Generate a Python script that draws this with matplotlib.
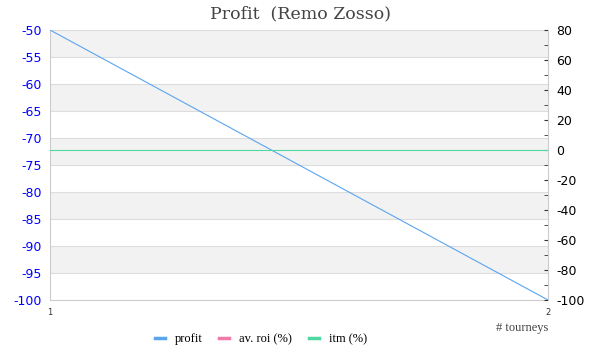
import matplotlib
matplotlib.use("Agg")
import matplotlib.pyplot as plt
import numpy as np
from matplotlib.ticker import MultipleLocator
from matplotlib.lines import Line2D

plt.rcParams["axes.unicode_minus"] = False

tourneys = [1, 2]
profit = [-50, -100]
roi = [np.nan, np.nan]
itm = [0, 0]

left_ticks = list(range(-100, -45, 5))
right_ticks = list(range(-100, 81, 20))

fig = plt.figure(figsize=(6, 3.6), dpi=100)
ax = fig.add_axes([50/600, 1-300/360, 498/600, 270/360])
ax2 = ax.twinx()

ax.set_xlim(1, 2)
ax.set_ylim(-100, -50)
ax2.set_ylim(-100, 80)

# bands
for i, lo in enumerate(range(-100, -50, 5)):
    if i % 2 == 1:
        ax.axhspan(lo, lo + 5, color="#f2f2f2", zorder=0, lw=0)
for t in left_ticks:
    ax.axhline(t, color="#dddddd", lw=0.8, zorder=0.5)

ax.plot(tourneys, profit, color="#5aa5f0", lw=0.8, zorder=3)
ax2.plot(tourneys, roi, color="#f07aa8", lw=0.8)
ax2.plot(tourneys, itm, color="#4fd8a0", lw=0.8)

ax.set_yticks(left_ticks)
ax.tick_params(axis="y", colors="blue", labelsize=9, length=0, pad=6)
ax.set_xticks(tourneys)
ax.tick_params(axis="x", length=0, labelsize=6, pad=6, colors="#333333")

ax2.set_yticks(right_ticks)
ax2.yaxis.set_minor_locator(MultipleLocator(10))
ax2.tick_params(axis="y", which="both", direction="in", length=3, labelsize=9,
                colors="black", pad=6)
ax2.tick_params(axis="y", which="both", color="#333333")

for a in (ax, ax2):
    for s in a.spines.values():
        s.set_visible(False)
ax.spines["left"].set_visible(True)
ax.spines["bottom"].set_visible(True)
ax.spines["left"].set_color("#cccccc")
ax.spines["bottom"].set_color("#cccccc")
ax2.spines["right"].set_visible(True)
ax2.spines["right"].set_color("#cccccc")

fig.text(0.5, 1-14/360, "Profit  (Remo Zosso)", ha="center", va="center",
         fontsize=12.5, family="DejaVu Serif", color="#444444")
fig.text(548/600, 1-328/360, "# tourneys", ha="right", va="center",
         fontsize=9, family="Liberation Serif", color="#444444")

handles = [Line2D([], [], color=c, lw=2.5) for c in ("#5aa5f0", "#f07aa8", "#4fd8a0")]
fig.legend(handles, ["profit", "av. roi (%)", "itm (%)"], loc="center",
           bbox_to_anchor=(261/600, 1-339/360), ncol=3, frameon=False,
           prop={"family": "Liberation Serif", "size": 9}, handlelength=0.8,
           columnspacing=1.3, handletextpad=0.8)

fig.savefig("out.png", dpi=100)
